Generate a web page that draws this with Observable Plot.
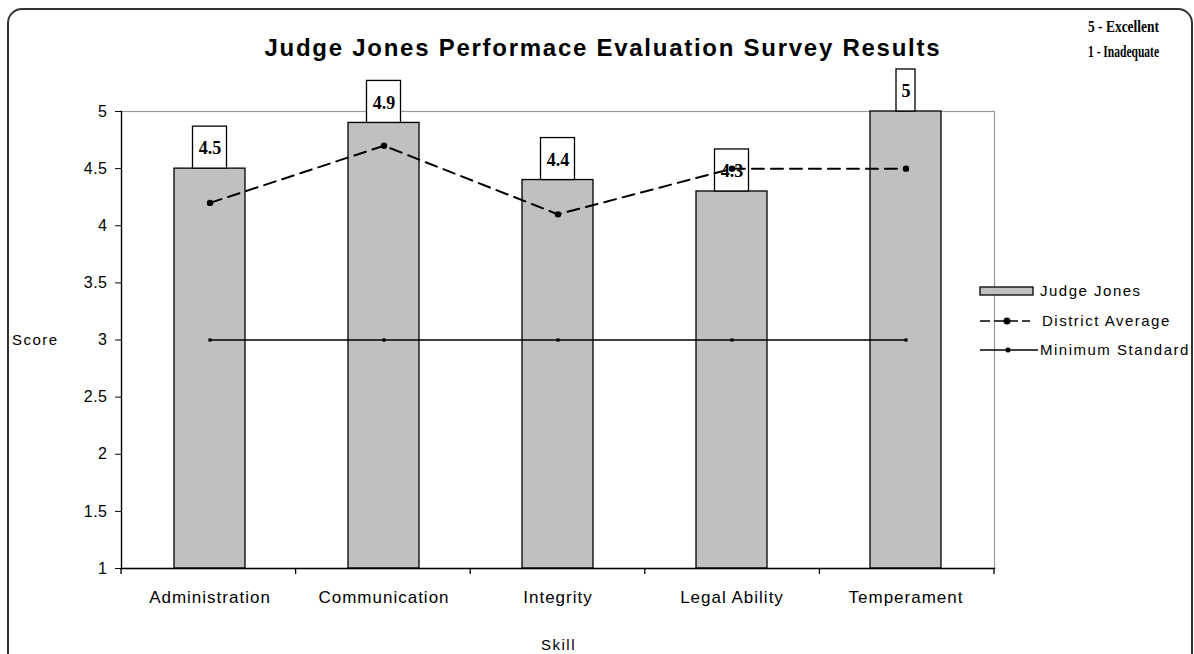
<!DOCTYPE html>
<html><head><meta charset="utf-8">
<script src="https://cdn.jsdelivr.net/npm/d3@7"></script>
<script src="https://cdn.jsdelivr.net/npm/@observablehq/plot@0.6"></script>
<style>
body{margin:0;background:#fff;}
svg{display:block;}
#chart svg g[aria-label="x-axis tick label"] text{letter-spacing:1px;}
#chart svg g[aria-label="y-axis tick label"] text{letter-spacing:0.5px;}
</style>
</head><body><div id="chart"></div>
<script>
const skills = ["Administration", "Communication", "Integrity", "Legal Ability", "Temperament"];
const judgeJones = [4.5, 4.9, 4.4, 4.3, 5];
const districtAverage = [4.2, 4.7, 4.1, 4.5, 4.5];
const minimumStandard = [3, 3, 3, 3, 3];
const yTicks = [1, 1.5, 2, 2.5, 3, 3.5, 4, 4.5, 5];
const seriesNames = ["Judge Jones", "District Average", "Minimum Standard"];
const scaleNotes = ["5 - Excellent", "1 - Inadequate"];
const titleText = "Judge Jones Performace Evaluation Survey Results";
const xLabel = "Skill";
const yLabel = "Score";

const rows = skills.map((s, i) => ({skill: s, jj: judgeJones[i], da: districtAverage[i], ms: minimumStandard[i], label: String(judgeJones[i])}));

const sans = "'Liberation Sans', Arial, sans-serif";
const serif = "'Liberation Serif', 'Times New Roman', serif";
const sp = "1.5px";

const boxMarks = [...new Set(rows.map(r => r.label.length))].map(len =>
  Plot.barY(rows.filter(r => r.label.length === len), {
    x: "skill", y1: "jj", y2: "jj", insetTop: -42,
    insetLeft: len === 1 ? 26 : 18.5, insetRight: len === 1 ? 26 : 18.5,
    fill: "#fff", stroke: "#000", strokeWidth: 1.3
  })
);

const plot = Plot.plot({
  width: 1194, height: 654,
  marginLeft: 121, marginRight: 200, marginTop: 111, marginBottom: 86,
  style: {fontFamily: sans, fontSize: "15px", background: "#fff", color: "#000", overflow: "visible"},
  x: {domain: skills, paddingInner: 0.59, paddingOuter: 0.295},
  y: {domain: [1, 5]},
  marks: [
    Plot.frame({stroke: "#999", strokeWidth: 1.2}),
    Plot.barY(rows, {x: "skill", y1: 1, y2: "jj", fill: "#c0c0c0", stroke: "#000", strokeWidth: 1.3}),
    Plot.frame({anchor: "left", stroke: "#000", strokeWidth: 1.3}),
    Plot.frame({anchor: "bottom", stroke: "#000", strokeWidth: 1.3}),
    Plot.axisY({ticks: yTicks, tickSize: 6, tickPadding: 8, tickFormat: d => String(d), fontSize: 16, label: null}),
    Plot.axisX({tickSize: 0, tickPadding: 22, fontSize: 17, label: null}),
    Plot.lineY(rows, {x: "skill", y: "ms", stroke: "#000", strokeWidth: 1.3}),
    Plot.dot(rows, {x: "skill", y: "ms", r: 1.8, fill: "#000", symbol: "square"}),
    ...boxMarks,
    Plot.text(rows, {x: "skill", y: "jj", text: "label", dy: -20, fontWeight: "bold", fontFamily: serif, fontSize: 18}),
    Plot.lineY(rows, {x: "skill", y: "da", stroke: "#000", strokeWidth: 2, strokeDasharray: "12,7"}),
    Plot.dot(rows, {x: "skill", y: "da", r: 3.2, fill: "#000"})
  ]
});

document.getElementById("chart").append(plot);

const svg = d3.select(plot);
const xs = plot.scale("x");
const ys = plot.scale("y");
const [x0, x1] = xs.range;
const yb = ys.apply(1);
const step = (x1 - x0) / skills.length;

// category boundary ticks
for (let i = 0; i <= skills.length; i++) {
  svg.append("line").attr("x1", x0 + i * step).attr("x2", x0 + i * step)
    .attr("y1", yb).attr("y2", yb + 6).attr("stroke", "#000").attr("stroke-width", 1.3);
}

// outer rounded border
svg.insert("rect", ":first-child").attr("x", 8).attr("y", 9).attr("width", 1184).attr("height", 660)
  .attr("rx", 14).attr("fill", "#fff").attr("stroke", "#333").attr("stroke-width", 2);

// title
svg.append("text").attr("x", 602).attr("y", 56).attr("text-anchor", "middle")
  .attr("font-family", sans).attr("font-weight", "bold").attr("font-size", 24)
  .attr("textLength", 675).attr("lengthAdjust", "spacing").text(titleText);

// scale notes
scaleNotes.forEach((t, i) => {
  svg.append("text").attr("x", 1088).attr("y", 32 + i * 25).attr("text-anchor", "start")
    .attr("font-family", serif).attr("font-weight", "bold").attr("font-size", 16)
    .attr("textLength", 71).attr("lengthAdjust", "spacingAndGlyphs").text(t);
});

// axis labels
svg.append("text").attr("x", 12).attr("y", ys.apply(3) + 5).attr("text-anchor", "start")
  .attr("font-family", sans).attr("font-size", 15).style("letter-spacing", sp).text(yLabel);
svg.append("text").attr("x", 541).attr("y", 650).attr("text-anchor", "start")
  .attr("font-family", sans).attr("font-size", 15).style("letter-spacing", sp).text(xLabel);

// legend
const lg = svg.append("g").attr("font-family", sans).attr("font-size", 15).attr("text-anchor", "start").style("letter-spacing", sp);
const ly = [291, 321, 350];
lg.append("rect").attr("x", 980).attr("y", ly[0] - 4).attr("width", 53).attr("height", 8)
  .attr("fill", "#c0c0c0").attr("stroke", "#000").attr("stroke-width", 1.3);
lg.append("line").attr("x1", 980).attr("x2", 1030).attr("y1", ly[1]).attr("y2", ly[1]).attr("stroke", "#000").attr("stroke-width", 1.5).attr("stroke-dasharray", "10,4");
lg.append("circle").attr("cx", 1007).attr("cy", ly[1]).attr("r", 3.5).attr("fill", "#000");
lg.append("line").attr("x1", 980).attr("x2", 1038).attr("y1", ly[2]).attr("y2", ly[2]).attr("stroke", "#000").attr("stroke-width", 1.3);
lg.append("circle").attr("cx", 1008).attr("cy", ly[2]).attr("r", 2.5).attr("fill", "#000");
const lx = [1040, 1042, 1040];
seriesNames.forEach((n, i) => {
  lg.append("text").attr("x", lx[i]).attr("y", ly[i] + 5).attr("text-anchor", "start").text(n);
});
</script>
</body></html>
